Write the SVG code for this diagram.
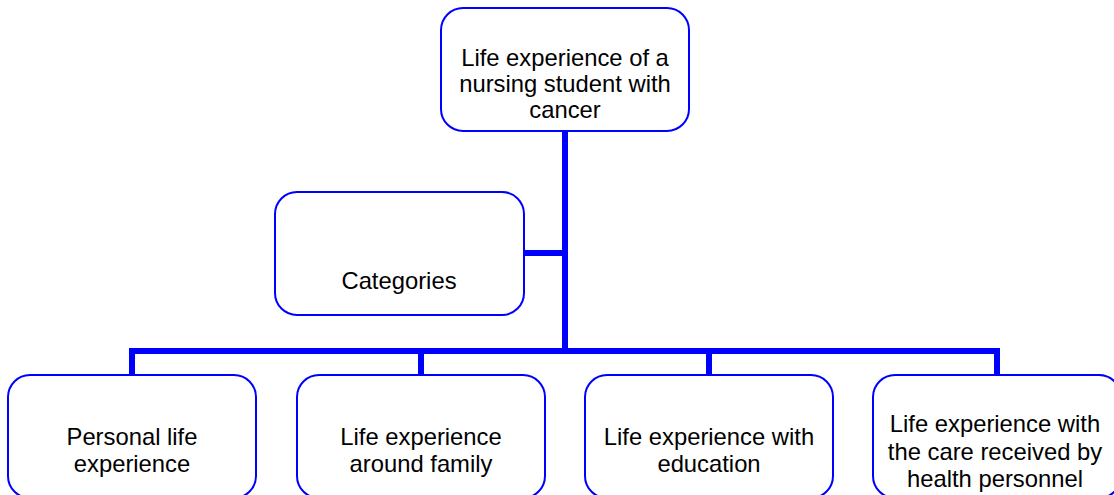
<svg xmlns="http://www.w3.org/2000/svg" width="1114" height="495" viewBox="0 0 1114 495">
<style>
.box{fill:#fff;stroke:#0000ff;stroke-width:2}
.t{font-family:"Liberation Sans",Arial,sans-serif;font-size:23.8px;fill:#000;text-anchor:middle}
.c{stroke:#0000ff;stroke-width:6;fill:none}
</style>
<rect width="1114" height="495" fill="#fff"/>
<g id="connectors">
<line class="c" x1="565" y1="131" x2="565" y2="354"/>
<line class="c" x1="524" y1="253" x2="565" y2="253"/>
<polyline class="c" points="132,375 132,351 997,351 997,375"/>
<line class="c" x1="421" y1="351" x2="421" y2="375"/>
<line class="c" x1="709" y1="351" x2="709" y2="375"/>
</g>
<g id="root">
<rect class="box" x="441" y="8" width="248" height="123" rx="22"/>
<text class="t" x="565" y="66">Life experience of a</text>
<text class="t" x="565" y="92">nursing student with</text>
<text class="t" x="565" y="118">cancer</text>
</g>
<g id="categories">
<rect class="box" x="275" y="192" width="249" height="123" rx="22"/>
<text class="t" x="399" y="289">Categories</text>
</g>
<g id="n1">
<rect class="box" x="8" y="375" width="248" height="123" rx="22"/>
<text class="t" x="132" y="445">Personal life</text>
<text class="t" x="132" y="472">experience</text>
</g>
<g id="n2">
<rect class="box" x="297" y="375" width="248" height="123" rx="22"/>
<text class="t" x="421" y="445">Life experience</text>
<text class="t" x="421" y="472">around family</text>
</g>
<g id="n3">
<rect class="box" x="585" y="375" width="248" height="123" rx="22"/>
<text class="t" x="709" y="445">Life experience with</text>
<text class="t" x="709" y="472">education</text>
</g>
<g id="n4">
<rect class="box" x="873" y="375" width="248" height="123" rx="22"/>
<text class="t" x="995" y="432">Life experience with</text>
<text class="t" x="995" y="460">the care received by</text>
<text class="t" x="995" y="487">health personnel</text>
</g>
</svg>
